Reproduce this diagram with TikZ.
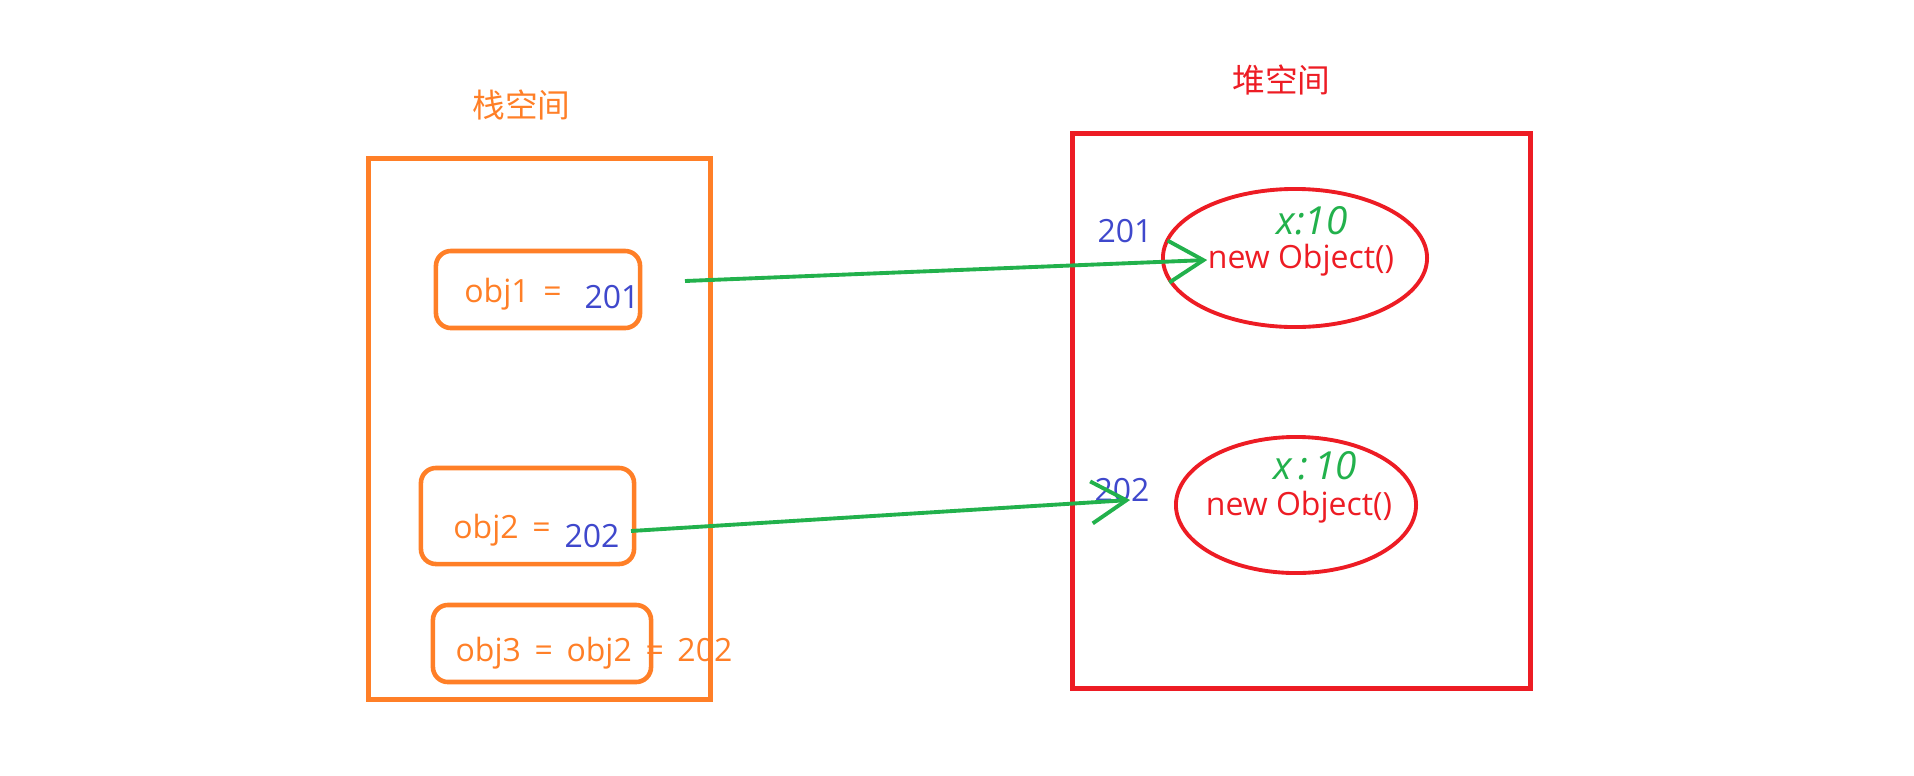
\documentclass[tikz,border=0pt]{standalone}
\usepackage{fontspec}
\setmainfont{Open Sans}
\newfontfamily\cjkfont{Noto Sans CJK SC}
\usetikzlibrary{shapes.geometric, arrows.meta, positioning, calc}

\definecolor{paintorange}{RGB}{255,127,39}
\definecolor{paintred}{RGB}{237,28,36}
\definecolor{paintgreen}{RGB}{34,177,76}
\definecolor{paintblue}{RGB}{63,72,204}

\begin{document}
\begin{tikzpicture}[
    x=0.01cm, y=-0.01cm,
    every node/.style={font=\fontsize{9.1}{11}\selectfont},
    space/.style={rectangle, draw, line width=1.4pt, inner sep=0pt},
    title/.style={inner sep=0pt, font=\fontsize{9.3}{11}\selectfont\cjkfont},
    slot/.style={rectangle, rounded corners=0.15cm, draw=paintorange, line width=1.3pt, inner sep=0pt},
    object/.style={ellipse, draw=paintred, line width=1.1pt, inner sep=0pt},
    stacktext/.style={text=paintorange, inner sep=0pt},
    addr/.style={text=paintblue, inner sep=0pt},
    field/.style={text=paintgreen, inner sep=0pt, font=\fontsize{11}{12}\selectfont\itshape},
    arrow/.style={paintgreen, line width=1.1pt, -{Straight Barb[length=0.35cm, width=0.42cm, line width=1.1pt]}}
]
\useasboundingbox (0,0) rectangle (1914,775);

% stack side
\node (stack) [space, draw=paintorange, minimum width=3.41cm, minimum height=5.40cm] at (539.5,429) {};
\node (stacklabel) [title, text=paintorange, above=0.36cm of stack, xshift=-0.18cm] {栈空间};
\node (slot1) [slot, minimum width=2.04cm, minimum height=0.77cm] at (538,289.5) {};
\node (slot2) [slot, minimum width=2.13cm, minimum height=0.96cm] at (527.5,516) {};
\node (slot3) [slot, minimum width=2.18cm, minimum height=0.77cm] at (542,643.5) {};
\node (obj1) [stacktext] at (513,294) {obj1 \,=};
\node (val1) [addr] at (612,297) {201};
\node (obj2) [stacktext] at (502,530) {obj2 \,=};
\node (val2) [addr] at (592,536) {202};
\node (obj3) [stacktext] at (594,653) {obj3 \,= \,obj2 \,= \,202};

% heap side
\node (heap) [space, draw=paintred, minimum width=4.57cm, minimum height=5.54cm] at (1301.5,411) {};
\node (heaplabel) [title, text=paintred, above=0.36cm of heap, xshift=-0.2cm] {堆空间};
\node (inst1) [object, minimum width=2.64cm, minimum height=1.38cm] at (1295,258) {};
\node (inst2) [object, minimum width=2.40cm, minimum height=1.36cm] at (1296,505) {};
\node (new1) [text=paintred, inner sep=0pt] at (1301,260) {new Object()};
\node (new2) [text=paintred, inner sep=0pt] at (1299,507) {new Object()};
\node (x1) [field] at (1312,221) {x:10};
\node (x2) [field] at (1315,466) {x\,:\,10};
\node (addr1) [addr] at (1125,231) {201};
\node (addr2) [addr] at (1122,490) {202};

% references
\coordinate (from1) at (685,281);
\coordinate (from2) at (631,531);
\draw [arrow] (from1) -- (new1.west);
\draw [arrow] (from2) -- ($(addr2.east)+(-20,10)$);

\end{tikzpicture}
\end{document}
